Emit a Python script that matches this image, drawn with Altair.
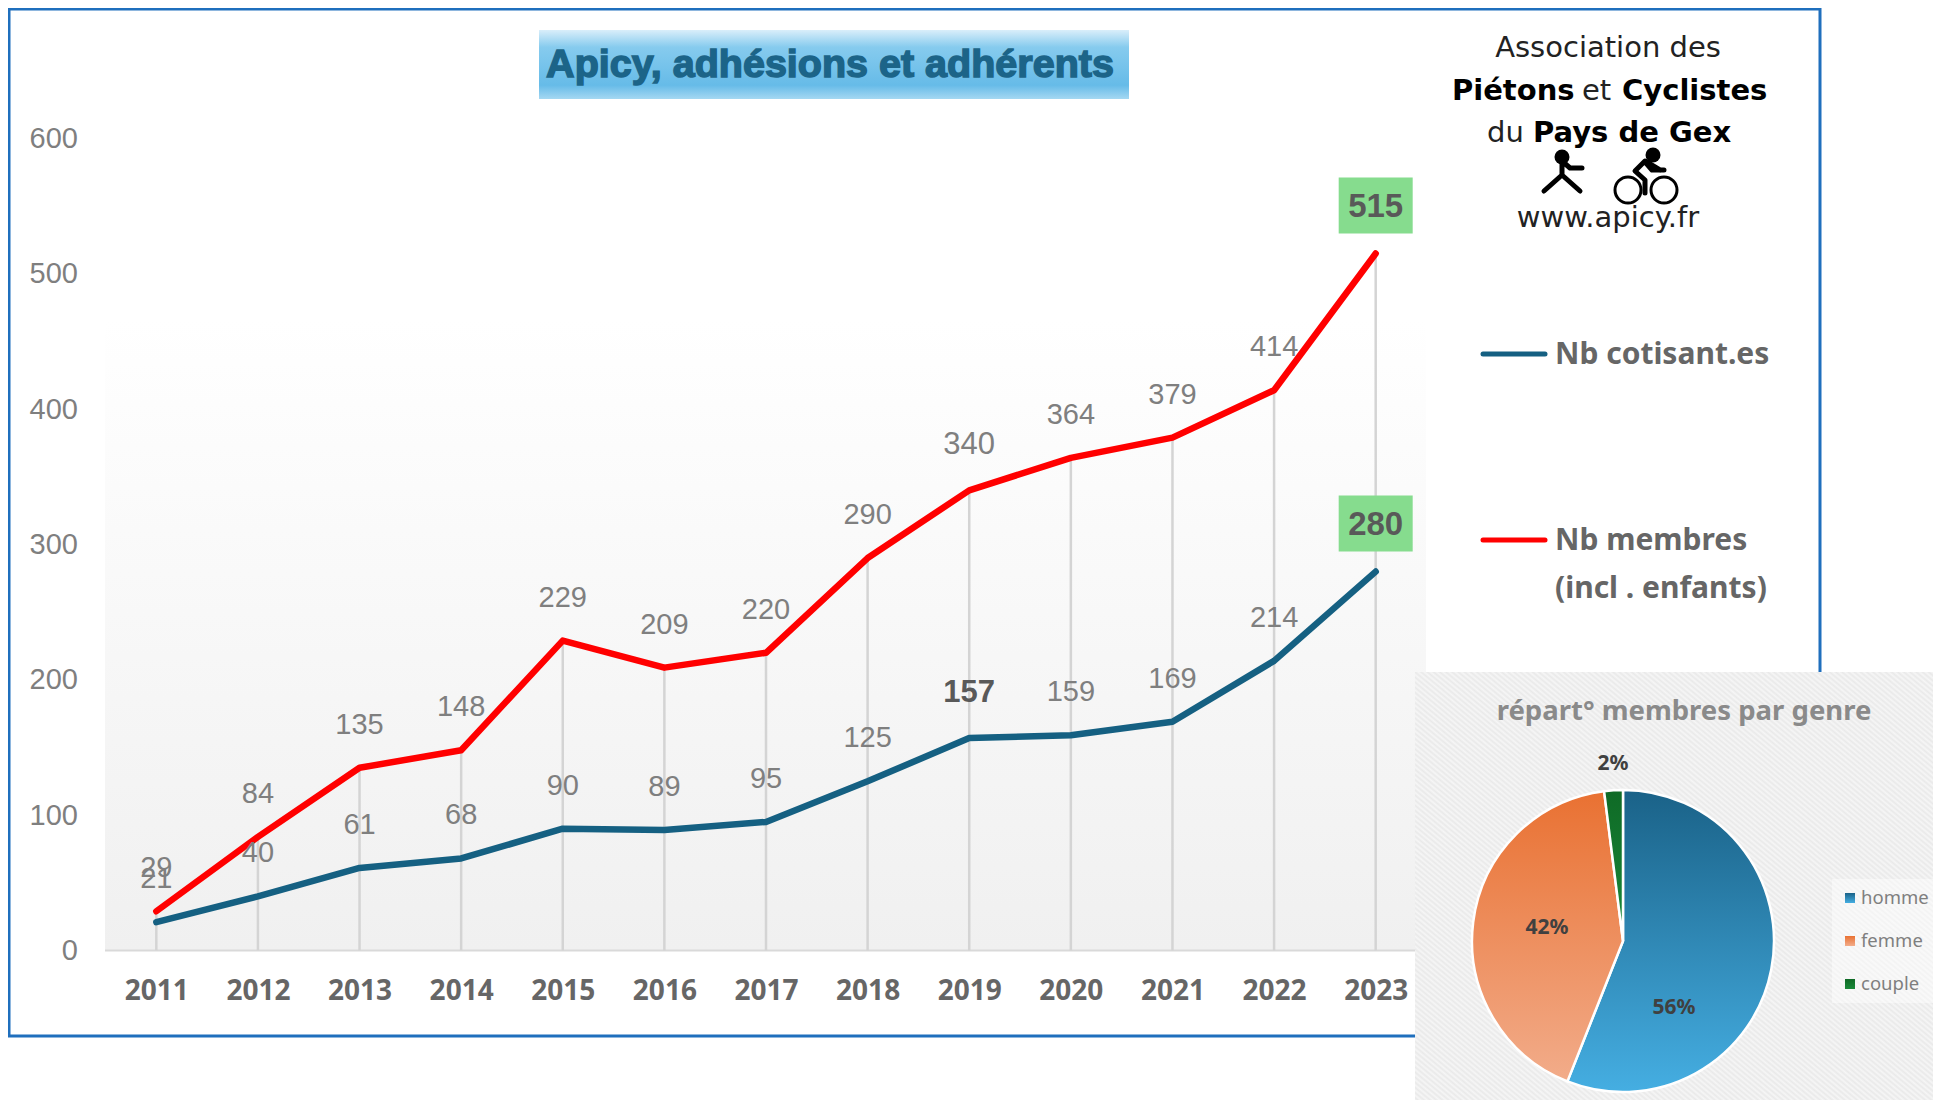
import altair as alt
import pandas as pd

years = [2011, 2012, 2013, 2014, 2015, 2016, 2017, 2018, 2019, 2020, 2021, 2022, 2023]
cotisants = [21, 40, 61, 68, 90, 89, 95, 125, 157, 159, 169, 214, 280]
membres = [29, 84, 135, 148, 229, 209, 220, 290, 340, 364, 379, 414, 515]
genres = ["homme", "femme", "couple"]
parts = [56, 42, 2]
SER_C = "Nb cotisant.es"
SER_M = "Nb membres"

PLOT_L, PLOT_T, PLOT_W, PLOT_H = 105.5, 138.5, 1321, 812
GREY = "#7f7f7f"
ARIAL = "Liberation Sans"
PLEX = "Noto Sans"
VERD = "DejaVu Sans"


def px(x):
    return x - PLOT_L


def py(y):
    return y - PLOT_T


blank = alt.Chart(alt.Data(values=[{}]))


def grad(*stops, x1=0, y1=0, x2=0, y2=1):
    n = len(stops) - 1
    ss = []
    for i, s in enumerate(stops):
        if isinstance(s, tuple):
            ss.append(alt.GradientStop(offset=s[0], color=s[1]))
        else:
            ss.append(alt.GradientStop(offset=i / n, color=s))
    return alt.LinearGradient(gradient="linear", stops=ss, x1=x1, y1=y1, x2=x2, y2=y2)


def box(x0, y0, x1, y1, **kw):
    return blank.mark_rect(**kw).encode(
        x=alt.value(px(x0)), x2=alt.value(px(x1)), y=alt.value(py(y0)), y2=alt.value(py(y1))
    )


def label(txt, x, y, size, color=GREY, font=ARIAL, weight="normal", align="center", **kw):
    return blank.mark_text(
        text=txt, fontSize=size, color=color, font=font, fontWeight=weight,
        align=align, baseline="middle", **kw
    ).encode(x=alt.value(px(x)), y=alt.value(py(y)))


def stroke_path(path, x, y, width=5, color="#000000"):
    return blank.mark_point(
        shape=path, size=4, filled=False, stroke=color, strokeWidth=width,
        strokeCap="round", strokeJoin="round", opacity=1
    ).encode(x=alt.value(px(x)), y=alt.value(py(y)))


def dot(x, y, d, color="#000000"):
    return blank.mark_point(shape="circle", size=d * d, filled=True, color=color, opacity=1).encode(
        x=alt.value(px(x)), y=alt.value(py(y))
    )


df = pd.DataFrame(
    {"year": years * 2, "value": cotisants + membres, "serie": [SER_C] * 13 + [SER_M] * 13}
)
top = pd.DataFrame({"year": years, "membres": membres})

x_enc = alt.X(
    "year:O",
    title=None,
    scale=alt.Scale(type="point", padding=0.5),
    axis=alt.Axis(
        labelAngle=0, labelAlign="center", labelFont=PLEX, labelFontWeight="bold", labelFontSize=28,
        labelColor="#666666", labelPadding=25, ticks=False, domain=False,
        grid=False, zindex=1, offset=16,
    ),
)
y_enc = alt.Y(
    "value:Q",
    title=None,
    scale=alt.Scale(domain=[0, 600], nice=False),
    axis=alt.Axis(
        values=[0, 100, 200, 300, 400, 500, 600], labelFont=ARIAL, labelFontSize=29, labelColor=GREY,
        labelPadding=28, ticks=False, domain=False, grid=False, zindex=1,
    ),
)

frame = box(9, 9, 1820, 1036, fill=None, stroke="#1f6fbd", strokeWidth=3)
plot_bg = box(105, 320, 1426, 950, color=grad("#ffffff", "#f0f0f0"))
baseline = blank.mark_rule(color="#d9d9d9", strokeWidth=2).encode(
    x=alt.value(px(105)), x2=alt.value(px(1426)), y=alt.datum(0, scale=alt.Scale(domain=[0, 600], nice=False))
)
title_bg = box(539, 30, 1129, 99, color=grad((0, "#d9eefa"), (0.25, "#86cbee"), (0.8, "#66bbe8"), (1, "#a5d8f2")))
title = label("Apicy, adhésions et adhérents", 830, 65, 39.5, color="#1c6488", font=ARIAL,
              weight="bold", stroke="#1c6488", strokeWidth=1.5)

drops = alt.Chart(top).mark_rule(color="#d4d4d4", strokeWidth=2.5).encode(
    x=alt.X("year:O"), y=alt.Y("membres:Q"), y2=alt.datum(0)
)
lines = alt.Chart(df).mark_line(strokeWidth=6.5, strokeCap="round", strokeJoin="round").encode(
    x=x_enc, y=y_enc,
    color=alt.Color("serie:N", scale=alt.Scale(domain=[SER_C, SER_M], range=["#156082", "#ff0000"]), legend=None),
)

base_txt = alt.Chart(df)
plain = base_txt.transform_filter(
    "datum.year < 2023 && datum.value != 157 && datum.value != 340"
).mark_text(font=ARIAL, fontSize=29, color=GREY, dy=-43).encode(x="year:O", y="value:Q", text="value:Q")
strong = base_txt.transform_filter("datum.value == 157").mark_text(
    font=ARIAL, fontSize=31, fontWeight="bold", color="#595959", dy=-45
).encode(x="year:O", y="value:Q", text="value:Q")
big = base_txt.transform_filter("datum.value == 340").mark_text(
    font=ARIAL, fontSize=31, color=GREY, dy=-45
).encode(x="year:O", y="value:Q", text="value:Q")
last = base_txt.transform_filter("datum.year == 2023")
last_box = last.mark_rect(width=74, height=56, yOffset=-48, color="#86dc8e").encode(x="year:O", y="value:Q")
last_txt = last.mark_text(font=ARIAL, fontSize=33, fontWeight="bold", color="#595959", dy=-47).encode(
    x="year:O", y="value:Q", text="value:Q"
)

# logo
logo = [
    label("Association des", 1608, 48, 29, color="#222222", font=VERD),
    label("Piétons", 1452, 91, 29, color="#000000", font=VERD, weight="bold", align="left"),
    label("et", 1582, 91, 29, color="#222222", font=VERD, align="left"),
    label("Cyclistes", 1622, 91, 29, color="#000000", font=VERD, weight="bold", align="left"),
    label("du", 1487, 133, 29, color="#222222", font=VERD, align="left"),
    label("Pays de Gex", 1533, 133, 29, color="#000000", font=VERD, weight="bold", align="left"),
    label("www.apicy.fr", 1608, 218, 29, color="#222222", font=VERD),
    dot(1562, 157, 15),
    stroke_path("M0 -13 L0 3 M0 -11 L8 -4 L20 -4 M0 3 L-18 19 M0 3 L18 19", 1562, 172),
    dot(1653, 155, 15),
    stroke_path("M14 -23 L-1 -32 L-11 -22 L-1 -13 L-1 0 M0 -30 L6 -23 L18 -23", 1646, 193),
    stroke_path("M-13 0 a13 13 0 1 0 26 0 a13 13 0 1 0 -26 0 Z", 1628, 190, width=3),
    stroke_path("M-13 0 a13 13 0 1 0 26 0 a13 13 0 1 0 -26 0 Z", 1664, 190, width=3),
]

# series key
KEY = "#666666"
key = [
    blank.mark_rule(color="#156082", strokeWidth=5, strokeCap="round").encode(
        x=alt.value(px(1483)), x2=alt.value(px(1545)), y=alt.value(py(354))),
    label(SER_C, 1555, 355, 30, color=KEY, font=PLEX, weight="bold", align="left"),
    blank.mark_rule(color="#ff0000", strokeWidth=5, strokeCap="round").encode(
        x=alt.value(px(1483)), x2=alt.value(px(1545)), y=alt.value(py(540))),
    label(SER_M, 1555, 541, 30, color=KEY, font=PLEX, weight="bold", align="left"),
    label("(incl . enfants)", 1555, 589, 30, color=KEY, font=PLEX, weight="bold", align="left"),
]

# pie panel with a fine diagonal hatch
hatch = []
N = 170
for i in range(N):
    hatch.append(((i + 0.0) / N, "#e9e9e9"))
    hatch.append(((i + 0.5) / N, "#f6f6f6"))
hatch.append((1, "#e9e9e9"))
panel = box(1415, 672, 1941, 1108, color=grad(*hatch, x1=0, y1=1, x2=1, y2=0))
panel_key_bg = box(1832, 879, 1941, 1003, fill="#ffffff", opacity=0.45)

CX, CY, R = 1623, 941, 151
starts = [sum(parts[:i]) for i in range(len(parts))]
pie_df = pd.DataFrame({"genre": genres, "part": parts, "start": starts, "end": [s + p for s, p in zip(starts, parts)]})
pie_fill = {
    "homme": grad("#1a6288", "#45aee2"),
    "femme": grad("#e97132", "#f2ac8a"),
    "couple": grad("#0f6a26", "#1a8a3a"),
}
theta_scale = alt.Scale(domain=[0, 100], range=[0, 6.283185307])
slices = [
    alt.Chart(pie_df).transform_filter(alt.datum.genre == g).mark_arc(
        radius=R, color=pie_fill[g], stroke="#ffffff", strokeWidth=2.5
    ).encode(
        theta=alt.Theta("start:Q", scale=theta_scale),
        theta2=alt.Theta2("end:Q"),
        x=alt.value(px(CX)), y=alt.value(py(CY)),
    )
    for g in genres
]
PIE_TXT = "#404040"
pie_labels = [
    label(f"{parts[0]}%", 1674, 1008, 21, color=PIE_TXT, font=PLEX, weight="bold"),
    label(f"{parts[1]}%", 1547, 928, 21, color=PIE_TXT, font=PLEX, weight="bold"),
    label(f"{parts[2]}%", 1613, 764, 21, color=PIE_TXT, font=PLEX, weight="bold"),
    label("répart° membres par genre", 1684, 712, 27.5, color="#8a8a8a", font=PLEX, weight="bold"),
]
swatch = [grad("#1a6288", "#45aee2"), grad("#e97132", "#f2ac8a"), grad("#0f6a26", "#1a8a3a")]
pie_key = []
for g, c, yy in zip(genres, swatch, [898, 941, 984]):
    pie_key.append(box(1845, yy - 5, 1855, yy + 5, color=c))
    pie_key.append(label(g, 1861, yy, 18.5, color="#7f7f7f", font=PLEX, align="left"))

chart = alt.layer(
    frame, plot_bg, baseline, title_bg, title, drops, lines, plain, strong, big, last_box, last_txt,
    *logo, *key, panel, panel_key_bg, *slices, *pie_labels, *pie_key,
).properties(
    width=PLOT_W, height=PLOT_H,
    padding={"left": PLOT_L - 8, "top": PLOT_T - 8, "right": 1933 - PLOT_L - PLOT_W, "bottom": 1100 - PLOT_T - PLOT_H},
    autosize=alt.AutoSizeParams(type="none"),
    background="#ffffff",
).configure_view(stroke=None)

chart.save("out.html", embed_options={"renderer": "svg", "actions": False})
